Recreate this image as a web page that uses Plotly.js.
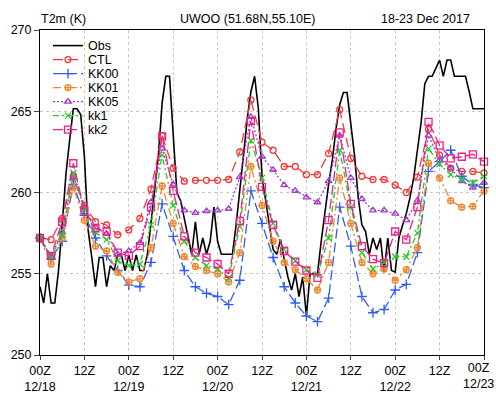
<!DOCTYPE html>
<html><head><meta charset="utf-8">
<script src="https://cdn.plot.ly/plotly-3.0.1.min.js"></script>
<style>html,body{margin:0;padding:0;background:#fff}#plot{width:496px;height:395px}</style>
</head><body><div id="plot"></div>
<script>
// time axis (hours since 2017-12-18 00Z)
const tickHours = [0,12,24,36,48,60,72,84,96,108,120];
const tickLabels = ['00Z<br>12/18','12Z','00Z<br>12/19','12Z','00Z<br>12/20','12Z','00Z<br>12/21','12Z','00Z<br>12/22','12Z','00Z<br>12/23'];
const modelHours = [0,3,6,9,12,15,18,21,24,27,30,33,36,39,42,45,48,51,54,57,60,63,66,69,72,75,78,81,84,87,90,93,96,99,102,105,108,111,114,117,120];
const obsHours = Array.from({length:121}, (_, i) => i);

// observed 2 m temperature (K), hourly
const obs = [254.2,253.2,255.0,253.2,253.2,255.2,258.0,261.1,263.2,265.15,265.15,264.8,262.2,257.7,256.0,254.2,256.0,256.0,254.2,255.5,
255.2,256.15,256.15,255.2,256.15,255.2,256.15,255.2,255.2,256.15,258.1,260.1,262.3,265.5,267.15,267.15,263.5,260.0,259.5,258.4,
257.5,256.2,258.2,256.2,257.2,256.2,257.0,259.1,257.0,256.2,256.2,256.2,256.2,258.0,260.0,262.3,264.5,266.2,267.15,265.2,
261.0,259.5,258.3,256.5,256.2,257.1,255.9,254.8,254.0,255.0,253.6,254.8,252.4,255.0,255.0,255.0,257.0,258.9,260.5,262.0,
263.9,265.4,266.15,266.15,264.4,262.3,259.7,258.0,257.6,256.2,257.2,256.5,257.2,255.1,257.2,255.2,255.1,257.2,258.0,258.7,
259.7,260.9,262.6,264.3,266.7,267.15,267.15,267.6,268.15,267.15,268.15,268.15,267.15,267.15,267.15,267.15,266.2,265.15,265.15,265.15,
265.15];

// model runs (K), 3-hourly
const ctl  = [257.2,257.1,258.4,261.0,259.2,258.2,258.0,257.4,257.7,258.4,260.2,263.5,261.5,260.7,260.75,260.75,260.75,260.8,262.5,265.7,263.1,262.6,261.6,261.6,261.1,261.1,262.4,265.1,262.1,261.0,260.8,260.8,260.45,260.0,260.95,263.9,262.3,261.5,261.3,261.3,261.2];
const kk00 = [257.2,255.9,257.0,260.5,258.6,257.2,256.1,255.2,254.3,254.2,255.7,259.3,257.3,255.2,254.2,253.8,253.6,253.1,254.6,260.1,258.1,256.0,254.2,253.2,252.4,252.05,253.5,259.1,256.7,253.6,252.6,252.8,254.0,254.35,256.3,261.3,261.9,262.6,261.0,260.5,260.3];
const kk01 = [257.2,255.6,257.2,260.3,258.3,256.7,256.4,255.1,254.5,254.7,256.6,260.4,258.1,256.05,255.45,255.2,255.0,254.5,256.3,261.6,259.2,257.0,255.7,255.25,254.7,254.0,255.7,260.9,258.1,255.7,255.0,255.3,254.6,255.25,256.6,261.8,260.9,259.5,259.1,259.15,260.1];
const kk05 = [257.2,256.05,257.55,260.9,259.1,257.85,257.45,256.2,256.4,256.9,259.4,262.7,260.5,258.9,258.75,258.85,258.9,259.0,260.95,264.65,262.2,261.4,260.45,260.1,259.7,259.4,260.7,263.5,260.9,259.6,258.9,258.9,258.7,258.3,259.5,263.5,262.0,261.5,260.7,260.3,260.6];
const kk1  = [257.2,256.0,257.45,261.2,259.0,257.55,257.1,255.8,255.5,255.6,258.0,262.3,259.2,257.0,256.0,255.5,255.3,254.75,257.9,263.2,260.9,258.1,256.5,255.8,255.25,254.95,257.2,262.6,259.1,256.3,255.3,255.7,256.05,256.05,257.5,262.7,261.75,261.1,260.8,260.6,261.0];
const kk2  = [257.2,256.1,258.2,261.8,258.9,257.8,257.6,256.3,256.1,256.7,259.1,263.45,260.1,257.3,256.3,256.0,255.6,255.0,258.25,264.4,260.35,258.0,256.4,255.75,255.2,254.75,258.3,263.7,259.3,256.7,255.9,255.65,257.6,257.1,259.1,264.35,262.9,262.1,262.2,262.35,261.9];

const seriesNames = ['Obs','CTL','KK00','KK01','KK05','kk1','kk2'];

function model(name, y, color, dash, symbol, size) {
  return {x: modelHours, y: y, name: name, type: 'scatter', mode: 'lines+markers', cliponaxis: false,
    line: {color: color, width: 1.3, dash: dash},
    marker: {symbol: symbol, size: size, color: color, line: {color: color, width: 1.3}}};
}

const traces = [
  {x: obsHours, y: obs, name: seriesNames[0], type: 'scatter', mode: 'lines', line: {color: '#000', width: 1.6}},
  model(seriesNames[1], ctl,  '#f23a3a', '10px,5px', 'circle-open', 6),
  model(seriesNames[2], kk00, '#2f5cf5', '10px,4px', 'cross-thin-open', 7),
  model(seriesNames[3], kk01, '#f0872e', '8px,3px,2px,3px', 'circle-cross-open', 6),
  model(seriesNames[4], kk05, '#a23ccf', '2px,2px', 'triangle-up-open', 6),
  model(seriesNames[5], kk1,  '#22cc22', '6px,3px,2px,3px', 'x-thin-open', 6),
  model(seriesNames[6], kk2,  '#ee1f88', '10px,4px', 'square-open', 7)
];

// the last tick label sits flush with the right edge, as in the original
const axisTickText = tickLabels.slice(0, -1).concat(['']);
const lastLabel = tickLabels[tickLabels.length - 1];

const font = {family: 'Liberation Sans, Arial, sans-serif', size: 12.5, color: '#000'};
const layout = {
  width: 496, height: 395,
  margin: {l: 40, r: 12, t: 30, b: 40},
  paper_bgcolor: '#fff', plot_bgcolor: '#fff',
  font: font,
  showlegend: true,
  legend: {x: 0.018, y: 0.997, xanchor: 'left', yanchor: 'top', bgcolor: 'rgba(0,0,0,0)', borderwidth: 0,
    font: {family: 'Liberation Sans, Arial, sans-serif', size: 12.5, color: '#000'}, tracegroupgap: 0},
  xaxis: {range: [0, 120], tickvals: tickHours, ticktext: axisTickText, ticks: 'outside', ticklen: 4,
    showline: true, linecolor: '#000', linewidth: 1, mirror: true, zeroline: false,
    showgrid: true, gridcolor: '#c9c9c9', griddash: 'dot', gridwidth: 1, tickfont: font},
  yaxis: {range: [250, 270], tickvals: [250,255,260,265,270], ticks: 'outside', ticklen: 5,
    showline: true, linecolor: '#000', linewidth: 1, mirror: true, zeroline: false,
    showgrid: true, gridcolor: '#c9c9c9', griddash: 'dot', gridwidth: 1, tickfont: font},
  annotations: [
    {text: 'T2m (K)', xref: 'paper', yref: 'paper', x: -0.002, y: 1.005, xanchor: 'left', yanchor: 'bottom', showarrow: false, font: font},
    {text: 'UWOO (51.68N,55.10E)', xref: 'paper', yref: 'paper', x: 0.468, y: 1.005, xanchor: 'center', yanchor: 'bottom', showarrow: false, font: font},
    {text: '18-23 Dec 2017', xref: 'paper', yref: 'paper', x: 0.973, y: 1.005, xanchor: 'right', yanchor: 'bottom', showarrow: false, font: font},
    {text: lastLabel, xref: 'x', yref: 'paper', x: tickHours[tickHours.length - 1], y: 0, xanchor: 'right', yanchor: 'top',
      xshift: 11, yshift: -5, align: 'center', showarrow: false, font: font, borderpad: 0}
  ]
};

Plotly.newPlot('plot', traces, layout, {staticPlot: true, displayModeBar: false}).then(function (gd) {
  // tighten legend rows to the compact spacing of the original
  const items = gd.querySelectorAll('.legend .traces');
  if (!items.length) return;
  const m = /translate\(([-\d.]+)[ ,]+([-\d.]+)\)/.exec(items[0].getAttribute('transform') || '');
  const x0 = m ? parseFloat(m[1]) : 0, y0 = m ? parseFloat(m[2]) : 9;
  items.forEach(function (el, i) { el.setAttribute('transform', 'translate(' + x0 + ',' + (y0 + i * 14) + ')'); });
});
</script>
</body></html>
